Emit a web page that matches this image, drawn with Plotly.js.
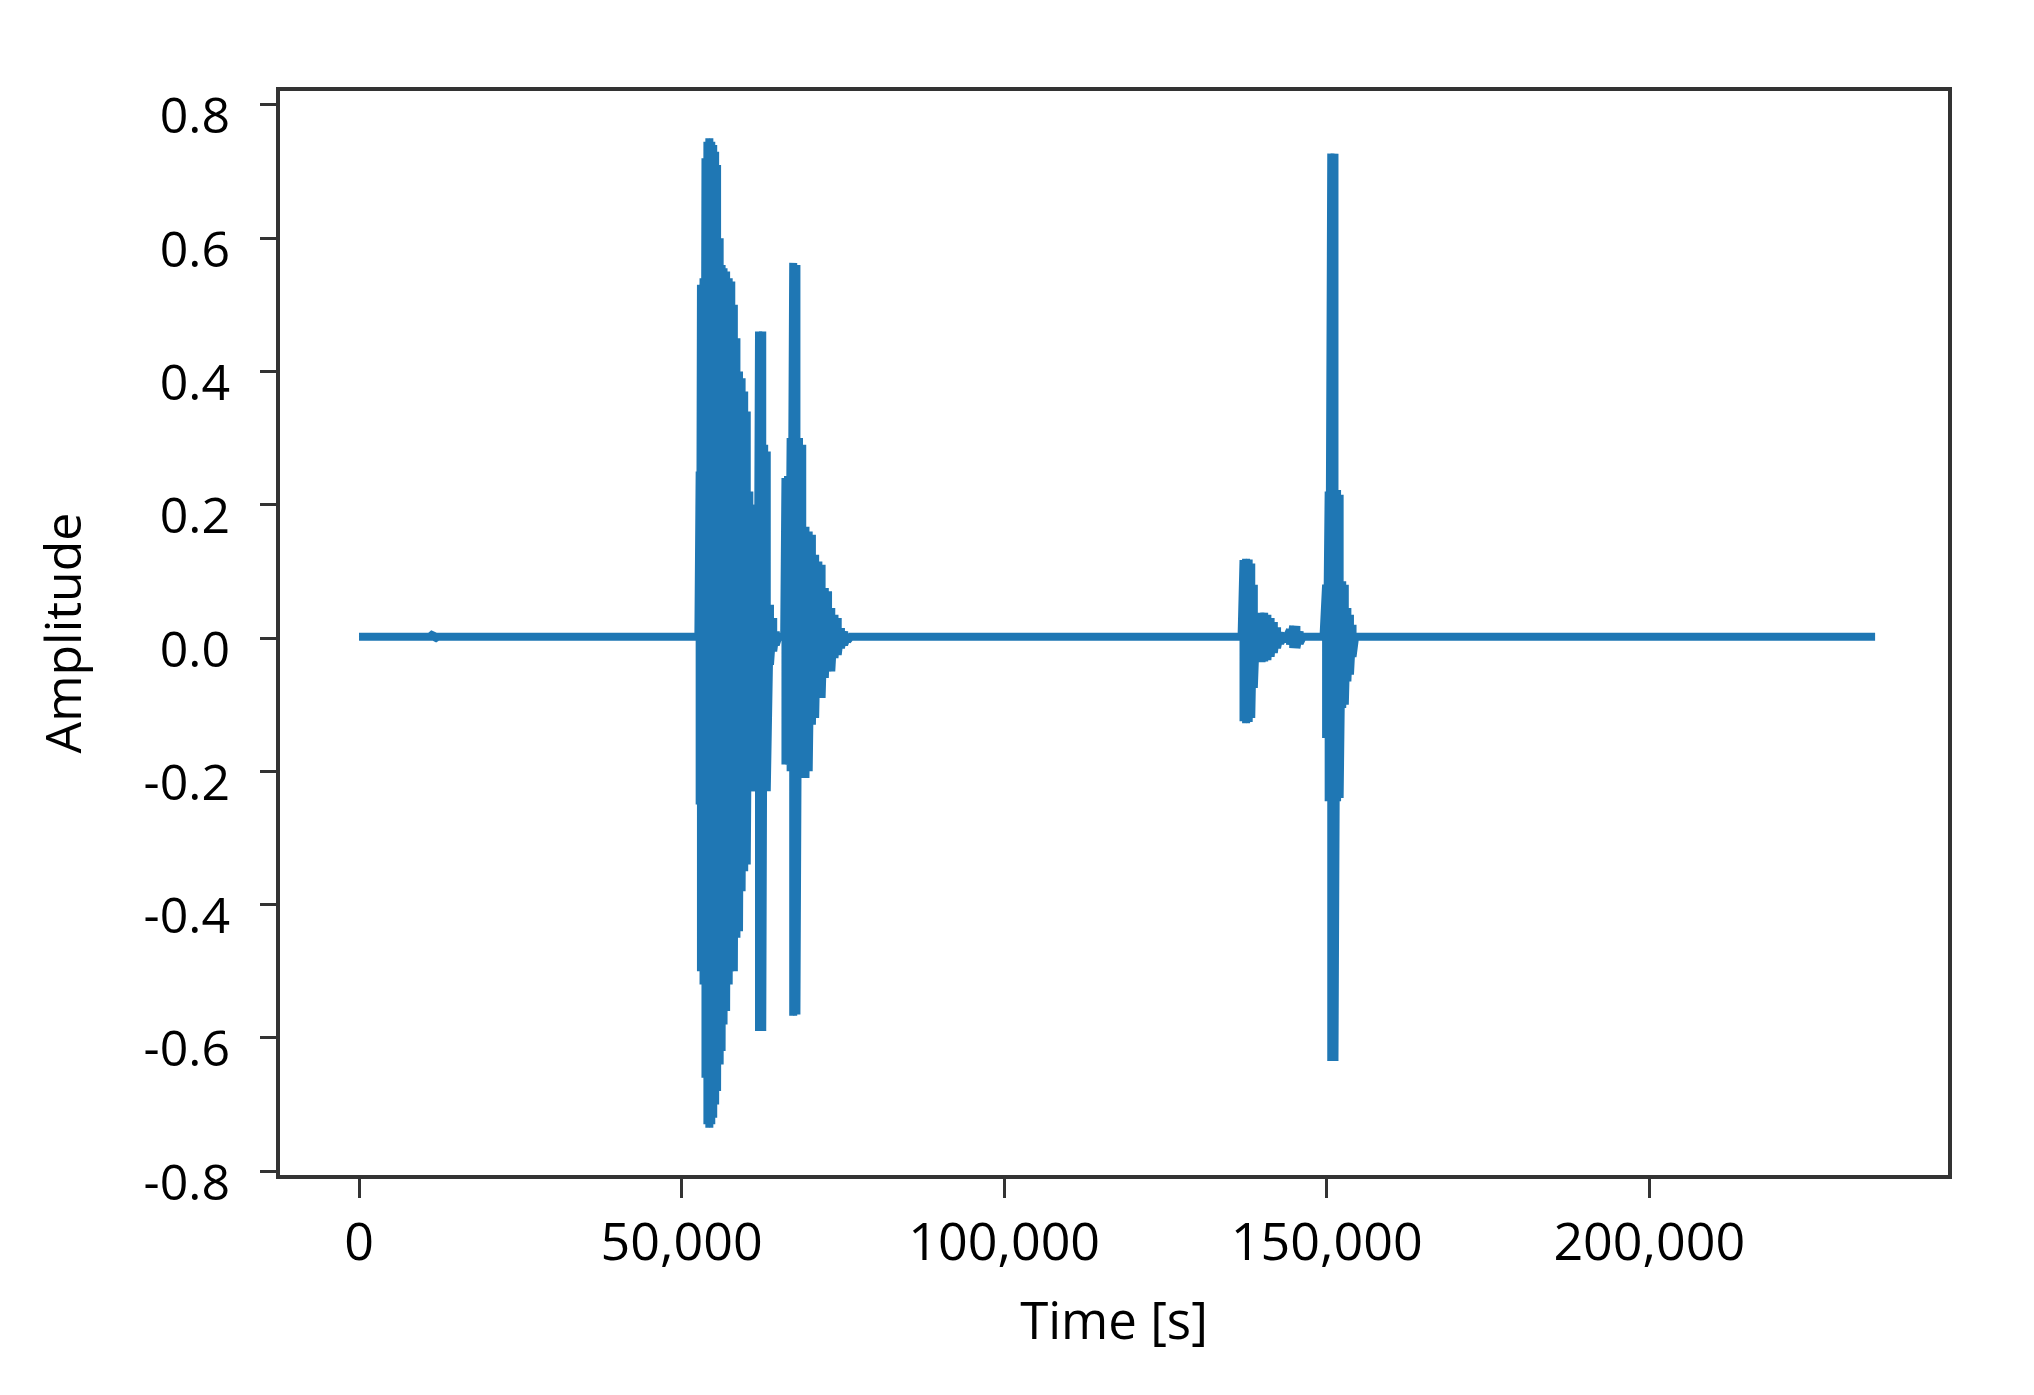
<!DOCTYPE html>
<html>
<head>
<meta charset="utf-8">
<script src="https://cdn.plot.ly/plotly-3.0.1.min.js"></script>
<style>
html, body { margin: 0; padding: 0; background: #ffffff; }
#chart { width: 2034px; height: 1395px; }
</style>
</head>
<body>
<div id="chart"></div>
<script>
// Waveform envelope: time (samples), upper and lower amplitude
const timeSamples = [
  0, 11000, 11600, 12200, 52600,
  52800, 53000, 53400, 53700, 54000, 54300, 54600, 54900, 55200, 55500, 55900,
  56200, 56500, 56900, 57300, 57700, 58100, 58500, 58900, 59300, 59700, 60100,
  60500, 60900, 61300, 61700, 62000, 62500, 62800, 63200, 63700, 64200, 64600, 65000,
  65900, 66100, 66500, 66900, 67300, 67800, 68200, 68700, 69200, 69700, 70200,
  70700, 71200, 71700, 72200, 72700, 73200, 73700, 74200, 74700, 75200, 75700, 76200,
  136800, 137100, 137500, 137900, 138300, 138700, 139100, 139500, 139900, 140300,
  140800, 141300, 141800, 142300, 142800, 143300, 143800, 144300, 144800, 145300,
  145800, 146300,
  149500, 149900, 150300, 150700, 151200, 151600, 152000, 152400, 152800, 153200,
  153600, 154000, 154400,
  235000
];
const upperAmp = [
  0.002, 0.002, 0.007, 0.002, 0.002,
  0.25, 0.53, 0.54, 0.72, 0.745, 0.75, 0.745, 0.74, 0.73, 0.71, 0.60,
  0.56, 0.555, 0.55, 0.54, 0.535, 0.50, 0.45, 0.40, 0.39, 0.37, 0.34,
  0.22, 0.20, 0.20, 0.20, 0.46, 0.46, 0.29, 0.28, 0.05, 0.03, 0.01, 0.002,
  0.002, 0.24, 0.243, 0.30, 0.563, 0.56, 0.30, 0.29, 0.167, 0.16, 0.155,
  0.125, 0.115, 0.11, 0.075, 0.07, 0.045, 0.035, 0.03, 0.015, 0.01, 0.004, 0.002,
  0.002, 0.117, 0.119, 0.118, 0.112, 0.08, 0.028, 0.033, 0.038, 0.038,
  0.035, 0.03, 0.024, 0.016, 0.009, 0.004, 0.002, 0.012, 0.018, 0.018,
  0.01, 0.002,
  0.002, 0.08, 0.22, 0.727, 0.727, 0.222, 0.215, 0.085, 0.08, 0.045,
  0.035, 0.02, 0.002,
  0.002
];
const lowerAmp = [
  0.002, 0.002, -0.002, 0.002, 0.002,
  -0.25, -0.50, -0.52, -0.66, -0.73, -0.735, -0.73, -0.72, -0.70, -0.68, -0.64,
  -0.62, -0.58, -0.56, -0.52, -0.50, -0.50, -0.45, -0.44, -0.38, -0.35, -0.34,
  -0.23, -0.23, -0.23, -0.23, -0.59, -0.59, -0.23, -0.23, -0.04, -0.02, -0.01, 0.002,
  0.002, -0.19, -0.19, -0.20, -0.567, -0.565, -0.21, -0.21, -0.21, -0.20, -0.13,
  -0.12, -0.09, -0.09, -0.06, -0.05, -0.05, -0.03, -0.025, -0.015, -0.01, -0.004, 0.002,
  0.002, -0.125, -0.128, -0.126, -0.12, -0.075, -0.028, -0.033, -0.036, -0.035,
  -0.033, -0.028, -0.022, -0.015, -0.008, -0.004, 0.002, -0.01, -0.015, -0.015,
  -0.008, 0.002,
  0.002, -0.15, -0.245, -0.635, -0.635, -0.245, -0.24, -0.105, -0.10, -0.065,
  -0.055, -0.028, 0.002,
  0.002
];

// Tick labels
const xTickVals = [0, 50000, 100000, 150000, 200000];
const xTickText = ['0', '50,000', '100,000', '150,000', '200,000'];
const yTickVals = [-0.8, -0.6, -0.4, -0.2, 0.0, 0.2, 0.4, 0.6, 0.8];
const yTickText = ['-0.8', '-0.6', '-0.4', '-0.2', '0.0', '0.2', '0.4', '0.6', '0.8'];

// Build the oscillating trace from the envelope
const xs = [];
const ys = [];
for (let i = 0; i < timeSamples.length; i++) {
  xs.push(timeSamples[i]);
  ys.push(upperAmp[i]);
  if (lowerAmp[i] !== upperAmp[i]) {
    xs.push(timeSamples[i]);
    ys.push(lowerAmp[i]);
  }
}

// Solid body under the oscillation (upper envelope forward, lower envelope back)
const fx = timeSamples.concat(timeSamples.slice().reverse());
const fy = upperAmp.concat(lowerAmp.slice().reverse());

const bodyTrace = {
  type: 'scatter',
  mode: 'lines',
  x: fx,
  y: fy,
  fill: 'toself',
  fillcolor: '#1f77b4',
  line: { color: '#1f77b4', width: 0 },
  hoverinfo: 'skip',
  showlegend: false
};

const waveTrace = {
  type: 'scatter',
  mode: 'lines',
  x: xs,
  y: ys,
  line: { color: '#1f77b4', width: 8, simplify: false },
  hoverinfo: 'skip',
  showlegend: false
};

const fontFam = '"Open Sans", "DejaVu Sans", sans-serif';

const layout = {
  width: 2034,
  height: 1395,
  paper_bgcolor: '#ffffff',
  plot_bgcolor: '#ffffff',
  margin: { l: 280, r: 86, t: 91, b: 220, pad: 0 },
  showlegend: false,
  font: { family: fontFam, color: '#000000', size: 50 },
  xaxis: {
    range: [-12250, 246300],
    tickmode: 'array',
    tickvals: xTickVals,
    ticktext: xTickText,
    ticks: 'outside',
    ticklen: 19,
    tickwidth: 3,
    tickcolor: '#333333',
    ticklabelstandoff: 0,
    tickfont: { family: fontFam, size: 52, color: '#000000' },
    showline: true,
    linecolor: '#333333',
    linewidth: 4,
    mirror: true,
    showgrid: false,
    zeroline: false,
    title: { text: 'Time [s]', font: { family: fontFam, size: 51, color: '#000000' }, standoff: 30 }
  },
  yaxis: {
    range: [-0.806, 0.821],
    tickmode: 'array',
    tickvals: yTickVals,
    ticktext: yTickText,
    ticks: 'outside',
    ticklen: 16,
    tickwidth: 3,
    tickcolor: '#333333',
    ticklabelstandoff: 20,
    ticklabelshift: 11,
    tickfont: { family: fontFam, size: 50, color: '#000000' },
    showline: true,
    linecolor: '#333333',
    linewidth: 4,
    mirror: true,
    showgrid: false,
    zeroline: false,
    title: { text: 'Amplitude', font: { family: fontFam, size: 50, color: '#000000' }, standoff: 47 }
  }
};

Plotly.newPlot('chart', [bodyTrace, waveTrace], layout, { displayModeBar: false, staticPlot: true });
</script>
</body>
</html>
